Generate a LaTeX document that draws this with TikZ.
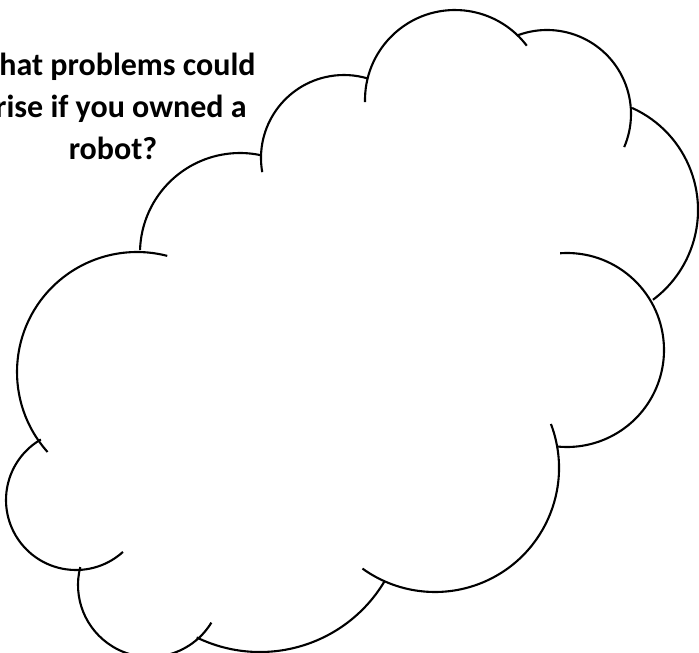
\documentclass[tikz,border=0pt]{standalone}
\usepackage{fontspec}
\setmainfont{Carlito}
\newcommand\puffarc[5]{\draw[cloudline] (#1,#2) ++(#3:#5) arc[start angle=#3, end angle=#4, radius=#5];}
\begin{document}
\begin{tikzpicture}[x=1pt,y=-1pt,
  cloudline/.style={line width=2.1pt, black},
  qtext/.style={anchor=base, inner sep=0pt, font=\fontsize{32}{42}\selectfont\bfseries}]
\useasboundingbox (0,0) rectangle (699,653);
\clip (0,0) rectangle (699,653);
\fill[white] (0,0) rectangle (699,653);
% question text
\node[qtext] (t1) at (113,75) {What problems could};
\node[qtext] (t2) at (113,117) {arise if you owned a};
\node[qtext] (t3) at (113,159) {robot?};
% cloud puffs
\puffarc{137}{372}{-221.8}{-75.4}{120}
\puffarc{240}{253}{-178.3}{-78.5}{100}
\puffarc{344}{158}{-189.8}{-73.6}{83}
\puffarc{455}{100}{-181.3}{-37.1}{90}
\puffarc{547}{114}{-110.2}{23.2}{84}
\puffarc{586}{210}{-65.7}{53.3}{112}
\puffarc{567}{350}{-94.1}{95.8}{97}
\puffarc{435}{468}{-20.8}{125.8}{124}
\puffarc{260}{507}{31}{115.9}{145}
\puffarc{150}{585}{31.5}{194.4}{72}
\puffarc{76}{500}{47.9}{239.9}{70}
\end{tikzpicture}
\end{document}
